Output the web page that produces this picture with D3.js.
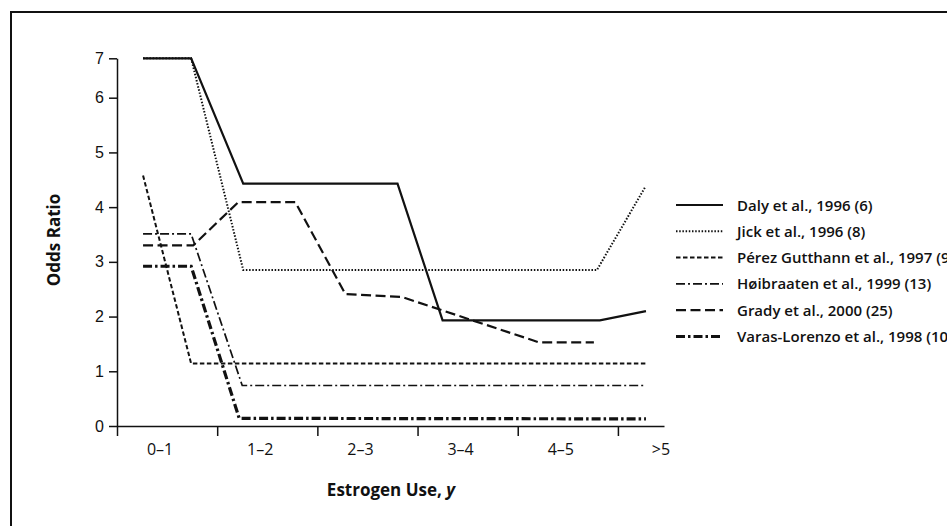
<!DOCTYPE html>
<html lang="en">
<head>
<meta charset="utf-8">
<title>Odds Ratio by Estrogen Use</title>
<script src="https://d3js.org/d3.v7.min.js"></script>
<style>
  body { margin: 0; background: #fff; }
  svg { display: block; font-family: "Open Sans", sans-serif; }
  .axis path, .axis line { stroke: #111; stroke-width: 1.5; }
  .axis text { font-size: 16px; fill: #111; }
</style>
</head>
<body>
<script>
// data: [years of use, odds ratio]
var tickLabels = ["0–1", "1–2", "2–3", "3–4", "4–5", ">5"];
var yTicks = [0, 1, 2, 3, 4, 5, 6, 7];

var daly = [[0.26, 7], [0.74, 7], [1.26, 4.43], [2.80, 4.43], [3.25, 1.93], [4.82, 1.93], [5.28, 2.10]];
var jick = [[0.26, 7], [0.74, 7], [1.26, 2.85], [4.79, 2.85], [5.27, 4.36]];
var perez = [[0.26, 4.58], [0.74, 1.14], [5.28, 1.14]];
var hoibraaten = [[0.26, 3.51], [0.74, 3.51], [1.25, 0.74], [5.28, 0.74]];
var grady = [[0.26, 3.30], [0.76, 3.30], [1.21, 4.09], [1.78, 4.09], [2.28, 2.41], [2.84, 2.36], [4.21, 1.53], [4.76, 1.53]];
var varas = [[0.26, 2.92], [0.74, 2.92], [1.22, 0.14], [5.28, 0.13]];

var seriesNames = ["Daly et al., 1996 (6)", "Jick et al., 1996 (8)", "Pérez Gutthann et al., 1997 (9)",
                   "Høibraaten et al., 1999 (13)", "Grady et al., 2000 (25)", "Varas-Lorenzo et al., 1998 (10)"];
var seriesData = [daly, jick, perez, hoibraaten, grady, varas];

// line styles per series
var styles = [
  {w: 2.2, dash: null},
  {w: 2, dash: "1.5,1.7"},
  {w: 2, dash: "4.5,2.5"},
  {w: 1.7, dash: "9,3,2,3"},
  {w: 2.2, dash: "10,4.5"},
  {w: 3.2, dash: "9,3,2.5,3"}
];

var W = 947, H = 526;
var svg = d3.select("body").append("svg").attr("width", W).attr("height", H);

// outer frame (runs off the right and bottom edge)
svg.append("rect")
  .attr("x", 11).attr("y", 12)
  .attr("width", W).attr("height", H)
  .attr("fill", "none").attr("stroke", "#111").attr("stroke-width", 2);

var x = d3.scaleLinear().domain([0, 5.46]).range([117, 664]);
// top of axis is compressed above 6
var y = d3.scaleLinear().domain([0, 6, 7]).range([426, 97.7, 58.3]);

// y axis
svg.append("g")
  .attr("class", "axis")
  .attr("transform", "translate(117,0)")
  .call(d3.axisLeft(y).tickValues(yTicks).tickSize(8).tickSizeOuter(0).tickPadding(5).tickFormat(d3.format("d")));

// x axis
svg.append("g")
  .attr("class", "axis")
  .attr("transform", "translate(0,426)")
  .call(d3.axisBottom(x).tickValues([0, 1, 2, 3, 4, 5]).tickSize(10).tickSizeOuter(0).tickFormat(""));

svg.selectAll(".xlab")
  .data(tickLabels)
  .enter().append("text")
  .attr("class", "xlab")
  .attr("x", function(d, i) { return x(i + 0.43); })
  .attr("y", 455)
  .attr("text-anchor", "middle")
  .attr("font-size", "16px")
  .attr("fill", "#111")
  .text(function(d) { return d; });

// axis titles
svg.append("text")
  .attr("x", 391).attr("y", 496)
  .attr("text-anchor", "middle")
  .attr("font-size", "17px").attr("font-weight", "bold").attr("fill", "#111")
  .html('Estrogen Use, <tspan font-style="italic">y</tspan>');

svg.append("text")
  .attr("transform", "translate(60,240) rotate(-90)")
  .attr("text-anchor", "middle")
  .attr("font-size", "17px").attr("font-weight", "bold").attr("fill", "#111")
  .text("Odds Ratio");

// lines
var line = d3.line()
  .x(function(d) { return x(d[0]); })
  .y(function(d) { return y(d[1]); });

seriesData.forEach(function(s, i) {
  svg.append("path")
    .datum(s)
    .attr("d", line)
    .attr("fill", "none")
    .attr("stroke", "#111")
    .attr("stroke-width", styles[i].w)
    .attr("stroke-dasharray", styles[i].dash);
});

// legend
var legend = svg.append("g").attr("transform", "translate(676,205)");
seriesNames.forEach(function(name, i) {
  var g = legend.append("g").attr("transform", "translate(0," + (i * 26.3) + ")");
  g.append("line")
    .attr("x1", 0).attr("x2", 47).attr("y1", 0).attr("y2", 0)
    .attr("stroke", "#111")
    .attr("stroke-width", styles[i].w)
    .attr("stroke-dasharray", styles[i].dash);
  g.append("text")
    .attr("x", 61).attr("y", 5.5)
    .attr("font-size", "15px").attr("font-weight", 600).attr("fill", "#111")
    .text(name);
});
</script>
</body>
</html>
